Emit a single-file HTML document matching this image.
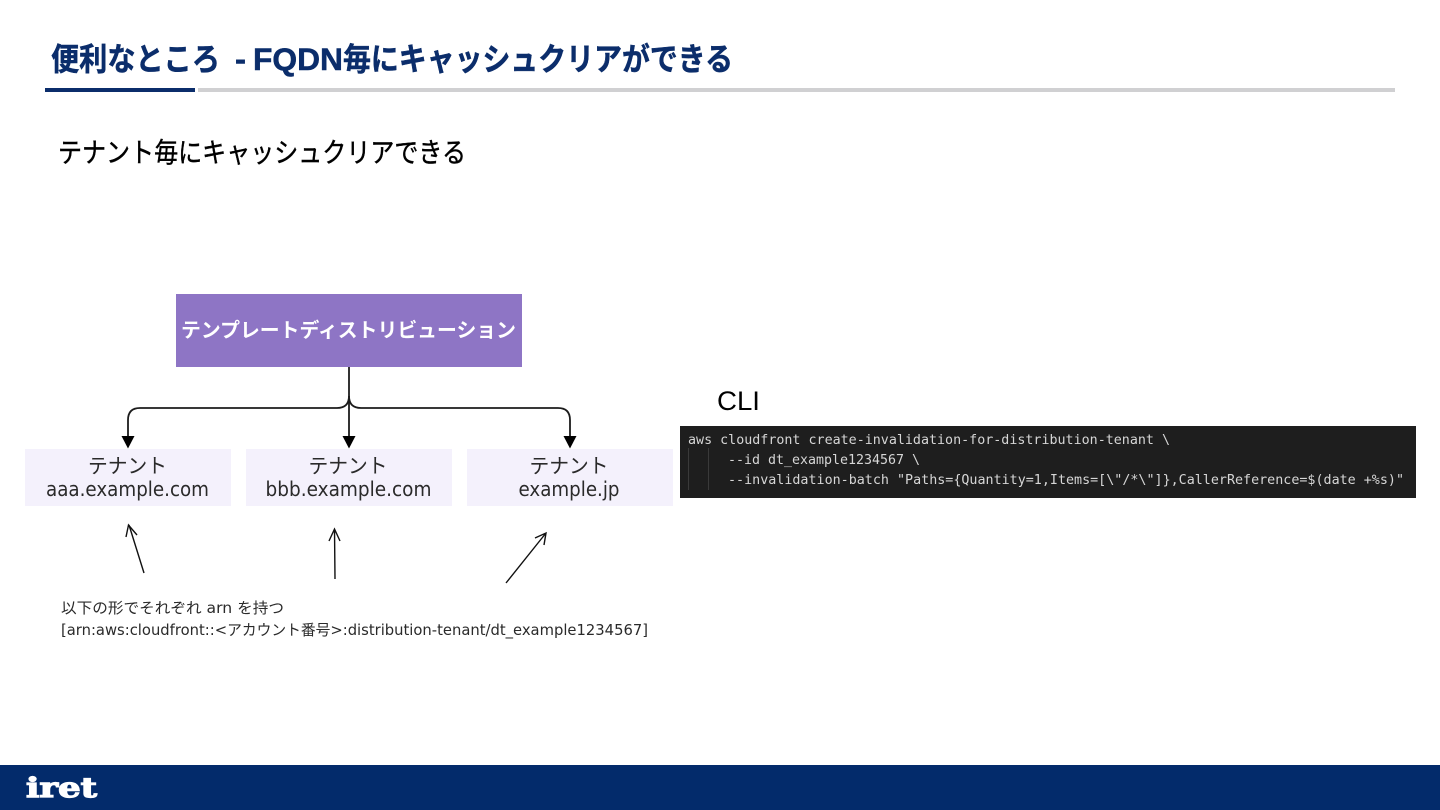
<!DOCTYPE html>
<html lang="ja"><head><meta charset="utf-8"><title>便利なところ</title>
<style>html,body{margin:0;padding:0;background:#fff;width:1440px;height:810px;overflow:hidden}svg{display:block}
.jp{font-family:"Liberation Sans","Noto Sans CJK JP",sans-serif}
.dv{font-family:"DejaVu Sans","Noto Sans CJK JP",sans-serif}
.mono{font-family:"DejaVu Sans Mono","Liberation Mono",monospace}
</style></head><body>
<svg width="1440" height="810" viewBox="0 0 1440 810" xmlns="http://www.w3.org/2000/svg">
<rect width="1440" height="810" fill="#fff"/>
<g class="jp" font-size="31.500" font-weight="700" fill="#0b2d6b" stroke="#0b2d6b" stroke-width="0.5">
<text x="51" y="70" textLength="169" lengthAdjust="spacingAndGlyphs">便利なところ</text>
<text x="235" y="70" textLength="11" lengthAdjust="spacingAndGlyphs">-</text>
<text x="253" y="70" textLength="90" lengthAdjust="spacingAndGlyphs">FQDN</text>
<text x="343" y="70" textLength="390" lengthAdjust="spacingAndGlyphs">毎にキャッシュクリアができる</text>
</g>
<rect x="45" y="88" width="150" height="4" fill="#0b2d6b"/>
<rect x="198" y="88" width="1197" height="4" fill="#d0d0d2"/>
<text class="jp" x="58" y="162" font-size="27.500" fill="#000" stroke="#000" stroke-width="0.4" textLength="408" lengthAdjust="spacingAndGlyphs">テナント毎にキャッシュクリアできる</text>

<rect x="176" y="294" width="346" height="73" fill="#8e75c5"/>
<text class="jp" x="181" y="337" font-size="20" font-weight="700" fill="#fff" textLength="335" lengthAdjust="spacingAndGlyphs">テンプレートディストリビューション</text>

<g fill="none" stroke="#1c1c1c" stroke-width="1.800">
<path d="M349 367V438"/>
<path d="M349 396Q349 408 337 408H140Q128 408 128 420V438"/>
<path d="M349 396Q349 408 361 408H558Q570 408 570 420V438"/>
</g>
<g fill="#000">
<path d="M121.500 436H134.500L128 448.500Z"/>
<path d="M342.500 436H355.500L349 448.500Z"/>
<path d="M563.500 436H576.500L570 448.500Z"/>
</g>

<g fill="#f4f1fc">
<rect x="25" y="449" width="206" height="57"/>
<rect x="246" y="449" width="206" height="57"/>
<rect x="467" y="449" width="206" height="57"/>
</g>
<g class="dv" font-size="20.500" fill="#2a2a2a" text-anchor="middle">
<text x="127.500" y="473" textLength="79" lengthAdjust="spacingAndGlyphs">テナント</text>
<text x="127.500" y="496" textLength="163" lengthAdjust="spacingAndGlyphs">aaa.example.com</text>
<text x="348" y="473" textLength="79" lengthAdjust="spacingAndGlyphs">テナント</text>
<text x="348.500" y="496" textLength="166" lengthAdjust="spacingAndGlyphs">bbb.example.com</text>
<text x="569" y="473" textLength="79" lengthAdjust="spacingAndGlyphs">テナント</text>
<text x="569" y="496" textLength="101" lengthAdjust="spacingAndGlyphs">example.jp</text>
</g>

<g fill="none" stroke="#111" stroke-width="1.400">
<path d="M144 573L129 525M126 537L128.500 525L137 535"/>
<path d="M335 579L334.500 529M329 541L334.500 529L340 541"/>
<path d="M506 583L546 533M535 538L546 533L544 545"/>
</g>

<text class="dv" x="61" y="613" font-size="15" fill="#2a2a2a" textLength="223" lengthAdjust="spacingAndGlyphs">以下の形でそれぞれ arn を持つ</text>
<text class="dv" x="61" y="635" font-size="15" fill="#2a2a2a" textLength="587" lengthAdjust="spacingAndGlyphs">[arn:aws:cloudfront::&lt;アカウント番号&gt;:distribution-tenant/dt_example1234567]</text>

<text class="jp" x="717" y="410" font-size="27" fill="#000" textLength="43" lengthAdjust="spacingAndGlyphs">CLI</text>

<rect x="680" y="426" width="736" height="72" fill="#1e1e1e"/>
<path d="M688.500 448V490M708.500 448V490" stroke="#3a3a3a" stroke-width="1" fill="none"/>
<g class="mono" font-size="13.500" fill="#d6d6d6">
<text x="688" y="444" textLength="482" lengthAdjust="spacingAndGlyphs">aws cloudfront create-invalidation-for-distribution-tenant \</text>
<text x="728" y="464" textLength="192" lengthAdjust="spacingAndGlyphs">--id dt_example1234567 \</text>
<text x="728" y="484" textLength="676" lengthAdjust="spacingAndGlyphs">--invalidation-batch "Paths={Quantity=1,Items=[\"/*\"]},CallerReference=$(date +%s)"</text>
</g>

<rect x="0" y="765" width="1440" height="45" fill="#032b6b"/>
<text x="26" y="797" font-family="'DejaVu Serif','Liberation Serif',serif" font-weight="700" font-size="27" fill="#fff" stroke="#fff" stroke-width="1.200" textLength="71" lengthAdjust="spacingAndGlyphs">iret</text>
</svg>
</body></html>
